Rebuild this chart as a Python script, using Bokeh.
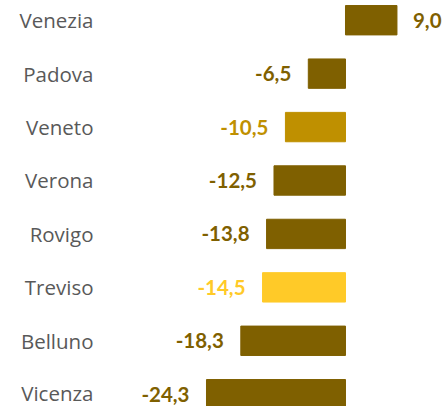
from bokeh.plotting import figure
from bokeh.models import ColumnDataSource, Range1d, FixedTicker
from bokeh.core.properties import value
from bokeh.embed import file_html
from bokeh.resources import INLINE

categories = ["Venezia", "Padova", "Veneto", "Verona", "Rovigo", "Treviso", "Belluno", "Vicenza"]
values = [9.0, -6.5, -10.5, -12.5, -13.8, -14.5, -18.3, -24.3]
colors = ["#7F6000", "#7F6000", "#BF9000", "#7F6000", "#7F6000", "#FFCA28", "#7F6000", "#7F6000"]

pos = list(range(len(categories)))
labels = [f"{v:.1f}".replace(".", ",") for v in values]
offsets = [16 if v >= 0 else -17 for v in values]
aligns = ["left" if v >= 0 else "right" for v in values]

src = ColumnDataSource(dict(y=pos, v=values, c=colors, lab=labels, off=offsets, al=aligns))

p = figure(width=444, height=406, output_backend="svg", toolbar_location=None,
           x_range=Range1d(-42.83, 17.31), y_range=Range1d(7.23, -0.369),
           min_border_left=100, min_border_right=0, min_border_top=0, min_border_bottom=0)
p.outline_line_color = None
p.xgrid.visible = False
p.ygrid.visible = False
p.xaxis.visible = False
p.background_fill_color = "white"

p.hbar(y="y", left=0, right="v", height=0.55, color="c", source=src)

p.text(x="v", y="y", text="lab", text_color="c", text_align="al", text_baseline="middle",
       x_offset="off", text_font=value("Lato"), text_font_style="bold", text_font_size="20.5px",
       source=src)

yax = p.yaxis[0]
yax.ticker = FixedTicker(ticks=pos)
yax.major_label_overrides = {i: c for i, c in enumerate(categories)}
yax.axis_line_color = None
yax.major_tick_line_color = None
yax.minor_tick_line_color = None
yax.major_label_standoff = 1
yax.major_label_text_font = "Open Sans"
yax.major_label_text_font_size = "20.5px"
yax.major_label_text_color = "#595959"

open("out.html", "w").write(file_html(p, INLINE))
